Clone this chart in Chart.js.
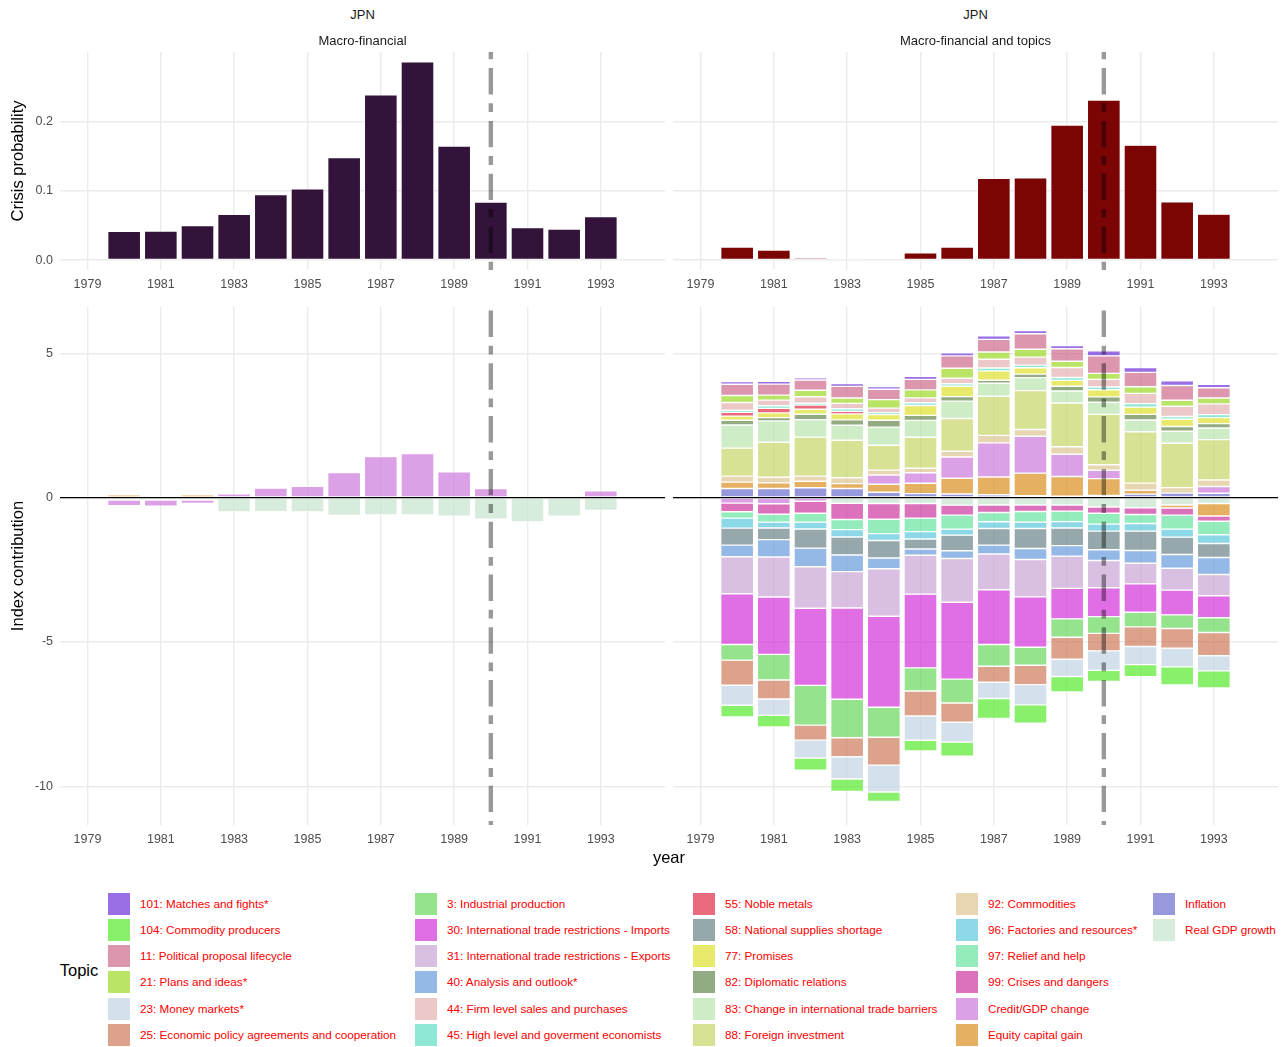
<!DOCTYPE html>
<html>
<head>
<meta charset="utf-8">
<script src="https://cdn.jsdelivr.net/npm/chart.js@4.4.0/dist/chart.umd.min.js"></script>
<style>
  body { margin: 0; width: 1288px; height: 1047px; background: #fff; position: relative; overflow: hidden;
         font-family: 'Liberation Sans', Arial, sans-serif; }
  canvas { position: absolute; }
  .txt { position: absolute; white-space: nowrap; transform: translate(-50%, -50%); line-height: 1; }
  .rot { transform: translate(-50%, -50%) rotate(-90deg); }
  .key { position: absolute; width: 22px; height: 22px; }
  .lab { position: absolute; font-size: 11.7px; color: #f00; white-space: nowrap; transform: translateY(-50%); line-height: 1; }
</style>
</head>
<body>

<canvas id="tl"></canvas>
<canvas id="tr"></canvas>
<canvas id="bl"></canvas>
<canvas id="br"></canvas>
<div id="legend"></div>

<script>
// --- data ---
const years = [1980, 1981, 1982, 1983, 1984, 1985, 1986, 1987, 1988, 1989, 1990, 1991, 1992, 1993];
const xTicks = [1979, 1981, 1983, 1985, 1987, 1989, 1991, 1993];
const yTicksProb = [0, 0.1, 0.2];
const yTicksIndex = [-10, -5, 0, 5];
const crisisYear = 1990;

// crisis probability
const probMacro  = [0.0414, 0.042, 0.0497, 0.066, 0.0945, 0.1026, 0.148, 0.2384, 0.2857, 0.1643, 0.0838, 0.0468, 0.0448, 0.0627];
const probTopics = [0.0188, 0.0145, 0.0034, 0.0015, 0.0005, 0.0106, 0.0188, 0.1179, 0.1188, 0.1947, 0.2309, 0.1657, 0.0841, 0.0662];

// index contribution, macro-financial model
const mCredit    = [-0.20, -0.22, -0.12, 0.13, 0.335, 0.39, 0.87, 1.42, 1.53, 0.89, 0.31, null, null, 0.24];
const mEquity    = [0.10, 0.05, 0.10, null, null, null, null, null, null, null, null, null, null, null];
const mInflation = [null, null, null, null, null, null, null, null, null, null, null, null, null, null];
const mRealGDP   = [-0.08, -0.08, -0.08, -0.50, -0.485, -0.50, -0.62, -0.60, -0.60, -0.64, -0.75, -0.84, -0.64, -0.44];

// index contribution, macro-financial and topics model
const t101 = [0.098, 0.098, 0.075, 0.098, 0.092, 0.110, 0.104, 0.121, 0.110, 0.110, 0.173, 0.167, 0.162, 0.121];
const t104 = [-0.410, -0.404, -0.416, -0.433, -0.329, -0.375, -0.485, -0.687, -0.629, -0.537, -0.381, -0.421, -0.629, -0.595];
const t11  = [0.387, 0.381, 0.352, 0.404, 0.358, 0.364, 0.427, 0.439, 0.537, 0.433, 0.606, 0.497, 0.508, 0.358];
const t21  = [0.242, 0.173, 0.225, 0.185, 0.294, 0.277, 0.346, 0.248, 0.271, 0.219, 0.208, 0.231, 0.208, 0.202];
const t23  = [-0.693, -0.566, -0.624, -0.768, -0.930, -0.837, -0.687, -0.566, -0.704, -0.600, -0.676, -0.624, -0.647, -0.525];
const t25  = [-0.866, -0.658, -0.520, -0.658, -0.964, -0.866, -0.670, -0.554, -0.670, -0.762, -0.606, -0.681, -0.681, -0.803];
const t3   = [-0.543, -0.889, -1.374, -1.334, -1.039, -0.803, -0.826, -0.751, -0.624, -0.635, -0.577, -0.508, -0.473, -0.514];
const t30  = [-1.755, -1.986, -2.673, -3.158, -3.152, -2.552, -2.662, -1.894, -1.744, -1.057, -0.999, -0.982, -0.855, -0.762];
const t31  = [-1.282, -1.386, -1.438, -1.259, -1.646, -1.345, -1.513, -1.241, -1.293, -1.114, -0.947, -0.716, -0.756, -0.733];
const t40  = [-0.404, -0.600, -0.641, -0.577, -0.370, -0.219, -0.266, -0.306, -0.381, -0.364, -0.370, -0.439, -0.479, -0.589];
const t44  = [0.271, 0.196, 0.225, 0.185, 0.156, 0.167, 0.191, 0.306, 0.277, 0.346, 0.266, 0.352, 0.358, 0.370];
const t45  = [0.075, 0.092, 0.064, 0.092, 0.069, 0.098, 0.087, 0.098, 0.092, 0.098, 0.092, 0.121, 0.092, 0.104];
const t55  = [0.127, 0.156, 0.144, 0.087, null, null, null, null, null, null, null, null, null, null];
const t58  = [-0.589, -0.404, -0.664, -0.624, -0.606, -0.346, -0.543, -0.577, -0.693, -0.612, -0.647, -0.670, -0.600, -0.485];
const t77  = [0.144, 0.162, 0.173, 0.208, 0.196, 0.341, 0.358, 0.323, 0.219, 0.202, 0.248, 0.254, 0.254, 0.208];
const t82  = [0.167, 0.115, 0.185, 0.185, 0.237, 0.173, 0.156, 0.104, 0.121, 0.167, 0.185, 0.191, 0.162, 0.150];
const t83  = [0.797, 0.739, 0.606, 0.520, 0.629, 0.583, 0.600, 0.450, 0.450, 0.416, 0.421, 0.410, 0.416, 0.404];
const t88  = [0.970, 1.212, 1.351, 1.299, 0.860, 1.074, 1.137, 1.357, 1.345, 1.513, 1.744, 1.778, 1.536, 1.397];
const t92  = [0.208, 0.196, 0.179, 0.202, 0.167, 0.156, 0.196, 0.260, 0.237, 0.260, 0.191, 0.248, 0.191, 0.225];
const t96  = [-0.346, -0.202, -0.237, -0.254, -0.237, -0.254, -0.208, -0.231, -0.219, -0.219, -0.242, -0.266, -0.277, -0.300];
const t97  = [-0.219, -0.271, -0.306, -0.352, -0.497, -0.468, -0.485, -0.323, -0.370, -0.364, -0.375, -0.312, -0.485, -0.468];
const t99  = [-0.300, -0.364, -0.416, -0.560, -0.549, -0.508, -0.346, -0.260, -0.225, -0.214, -0.219, -0.231, -0.248, -0.185];
const tCredit    = [-0.190, -0.214, -0.127, null, 0.323, 0.364, 0.739, 1.178, 1.276, 0.768, 0.289, null, null, 0.237];
const tEquity    = [0.219, 0.191, 0.225, 0.167, 0.277, 0.358, 0.543, 0.618, 0.779, 0.687, 0.583, 0.133, -0.104, -0.433];
const tInflation = [0.318, 0.318, 0.341, 0.318, 0.185, 0.139, 0.127, 0.098, 0.069, 0.046, 0.075, 0.121, 0.156, 0.150];
const tRealGDP   = [null, null, null, -0.196, -0.202, -0.202, -0.260, -0.254, -0.254, -0.254, -0.323, -0.352, -0.254, -0.202];

const topicLabels = [
  '101: Matches and fights*', '104: Commodity producers', '11: Political proposal lifecycle', '21: Plans and ideas*',
  '23: Money markets*', '25: Economic policy agreements and cooperation', '3: Industrial production',
  '30: International trade restrictions - Imports', '31: International trade restrictions - Exports',
  '40: Analysis and outlook*', '44: Firm level sales and purchases', '45: High level and goverment economists',
  '55: Noble metals', '58: National supplies shortage', '77: Promises', '82: Diplomatic relations',
  '83: Change in international trade barriers', '88: Foreign investment', '92: Commodities',
  '96: Factories and resources*', '97: Relief and help', '99: Crises and dangers',
  'Credit/GDP change', 'Equity capital gain', 'Inflation', 'Real GDP growth'
];
const topicValues = [t101, t104, t11, t21, t23, t25, t3, t30, t31, t40, t44, t45, t55, t58, t77, t82, t83, t88, t92,
                     t96, t97, t99, tCredit, tEquity, tInflation, tRealGDP];
const macroLabels = ['Credit/GDP change', 'Equity capital gain', 'Inflation', 'Real GDP growth'];
const macroValues = [mCredit, mEquity, mInflation, mRealGDP];

// colours as they appear on the page (fills drawn at 70% opacity)
const topicColors = [
  '#9a6ee4', '#88f06b', '#dc96ae', '#b9e465', '#d4e0eb', '#dca28c', '#96e38e', '#e06fe5', '#d9bfe1',
  '#95b9e7', '#ecc8c8', '#8fe8d6', '#eb6b7e', '#97a8ab', '#e9ea6c', '#93ab82', '#ceedc6', '#d8e294',
  '#e8d6b2', '#8dd8e6', '#94ecbc', '#dc72bc', '#dca0e6', '#e6b063', '#9898dc', '#d7ecdd'
];
const ALPHA = 0.7;

// --- helpers ---
function fillColor(hex) {
  const c = [1, 3, 5].map(i => parseInt(hex.slice(i, i + 2), 16));
  const b = c.map(v => Math.max(0, Math.round((v - 255 * (1 - ALPHA)) / ALPHA)));
  return `rgba(${b[0]},${b[1]},${b[2]},${ALPHA})`;
}
function points(vals) {
  return years.map((yr, i) => ({ x: yr, y: vals[i] }));
}

const refLines = {
  id: 'refLines',
  afterDatasetsDraw(chart, args, opts) {
    const { ctx, chartArea: a, scales: { x, y } } = chart;
    ctx.save();
    if (opts.zero) {
      const y0 = y.getPixelForValue(0);
      ctx.strokeStyle = '#000';
      ctx.lineWidth = 1.4;
      ctx.beginPath();
      ctx.moveTo(a.left, y0);
      ctx.lineTo(a.right, y0);
      ctx.stroke();
    }
    const xc = x.getPixelForValue(crisisYear);
    ctx.strokeStyle = 'rgba(0,0,0,0.4)';
    ctx.lineWidth = 4.4;
    ctx.setLineDash([8.8, 8.8, 26.4, 8.8]);
    ctx.lineDashOffset = opts.dashOffset;
    ctx.beginPath();
    ctx.moveTo(xc, a.top);
    ctx.lineTo(xc, a.bottom);
    ctx.stroke();
    ctx.restore();
  }
};

const tickFont = { family: "'Liberation Sans', Arial, sans-serif", size: 12.5 };
const PAD = 20;

function makePanel(id, area, datasets, o) {
  const yw = o.showY ? 60 : 0;
  const xh = 30;
  const cv = document.getElementById(id);
  cv.width = (area.r - area.l) + yw + PAD;
  cv.height = (area.b - area.t) + PAD + xh;
  cv.style.left = (area.l - yw) + 'px';
  cv.style.top = (area.t - PAD) + 'px';

  return new Chart(cv, {
    type: 'bar',
    data: { datasets },
    options: {
      responsive: false,
      animation: false,
      layout: { padding: { left: 0, top: PAD, right: PAD, bottom: 0 } },
      plugins: { legend: { display: false }, tooltip: { enabled: false }, refLines: { zero: o.zero, dashOffset: o.dashOffset } },
      scales: {
        x: {
          type: 'linear', min: 1978.25, max: 1994.75, stacked: true, offset: false,
          grid: { color: '#ebebeb', lineWidth: 1.4, drawTicks: false, offset: false },
          border: { display: false },
          afterBuildTicks: s => { s.ticks = xTicks.map(v => ({ value: v })); },
          afterFit: s => { s.height = xh; },
          ticks: { color: '#4d4d4d', font: tickFont, padding: o.xPad, maxRotation: 0, callback: v => String(v) }
        },
        y: {
          min: o.yMin, max: o.yMax, stacked: true,
          grid: { color: '#ebebeb', lineWidth: 1.4, drawTicks: false },
          border: { display: false },
          afterBuildTicks: s => { s.ticks = o.yTicks.map(v => ({ value: v })); },
          afterFit: s => { s.width = yw; },
          ticks: { display: o.showY, color: '#4d4d4d', font: tickFont, padding: 7, callback: o.fmt }
        }
      }
    },
    plugins: [refLines]
  });
}

function barSet(vals, color, opaque) {
  return {
    data: points(vals),
    backgroundColor: opaque ? color : fillColor(color),
    borderColor: '#ffffff',
    borderWidth: 0.7,
    borderSkipped: false,
    barPercentage: 0.9,
    categoryPercentage: 1.0
  };
}

const areaTL = { l: 60, r: 665, t: 52, b: 270 };
const areaTR = { l: 673, r: 1278, t: 52, b: 270 };
const areaBL = { l: 60, r: 665, t: 307, b: 825 };
const areaBR = { l: 673, r: 1278, t: 307, b: 825 };

const topOpts = { yMin: -0.0143, yMax: 0.3, yTicks: yTicksProb, fmt: v => v.toFixed(1), zero: false, dashOffset: 1.5, xPad: 7 };
const botOpts = { yMin: -11.335, yMax: 6.6, yTicks: yTicksIndex, fmt: v => String(v), zero: true, dashOffset: 14.1, xPad: 7 };

makePanel('tl', areaTL, [barSet(probMacro, '#33133a', true)], { ...topOpts, showY: true });
makePanel('tr', areaTR, [barSet(probTopics, '#7b0404', true)], { ...topOpts, showY: false });

// stacking: first dataset sits next to zero, so go through the legend order backwards
const macroSets = macroLabels.map((lab, i) => barSet(macroValues[i], topicColors[topicLabels.indexOf(lab)])).reverse();
const topicSets = topicLabels.map((lab, i) => barSet(topicValues[i], topicColors[i])).reverse();
makePanel('bl', areaBL, macroSets, { ...botOpts, showY: true });
makePanel('br', areaBR, topicSets, { ...botOpts, showY: false });

// --- text ---
function addText(str, cx, cy, size, color, rotate) {
  const d = document.createElement('div');
  d.className = 'txt' + (rotate ? ' rot' : '');
  d.textContent = str;
  d.style.left = cx + 'px';
  d.style.top = cy + 'px';
  d.style.fontSize = size + 'px';
  d.style.color = color;
  document.body.appendChild(d);
}
addText('JPN', 362.5, 14, 13, '#1a1a1a');
addText('Macro-financial', 362.5, 40, 13, '#1a1a1a');
addText('JPN', 975.5, 14, 13, '#1a1a1a');
addText('Macro-financial and topics', 975.5, 40, 13, '#1a1a1a');
addText('Crisis probability', 17, 161, 16.5, '#000', true);
addText('Index contribution', 17, 566, 16.5, '#000', true);
addText('year', 669, 857, 16.5, '#000');
addText('Topic', 79, 970, 16.5, '#000');

// --- legend ---
const legendCols = [108, 415, 693, 956, 1153];
const legend = document.getElementById('legend');
topicLabels.forEach((lab, i) => {
  const col = Math.floor(i / 6), row = i % 6;
  const cy = 903.5 + row * 26.3;
  const k = document.createElement('div');
  k.className = 'key';
  k.style.left = legendCols[col] + 'px';
  k.style.top = (cy - 11) + 'px';
  k.style.background = topicColors[i];
  legend.appendChild(k);
  const t = document.createElement('div');
  t.className = 'lab';
  t.textContent = lab;
  t.style.left = (legendCols[col] + 32) + 'px';
  t.style.top = cy + 'px';
  legend.appendChild(t);
});
</script>
</body>
</html>
